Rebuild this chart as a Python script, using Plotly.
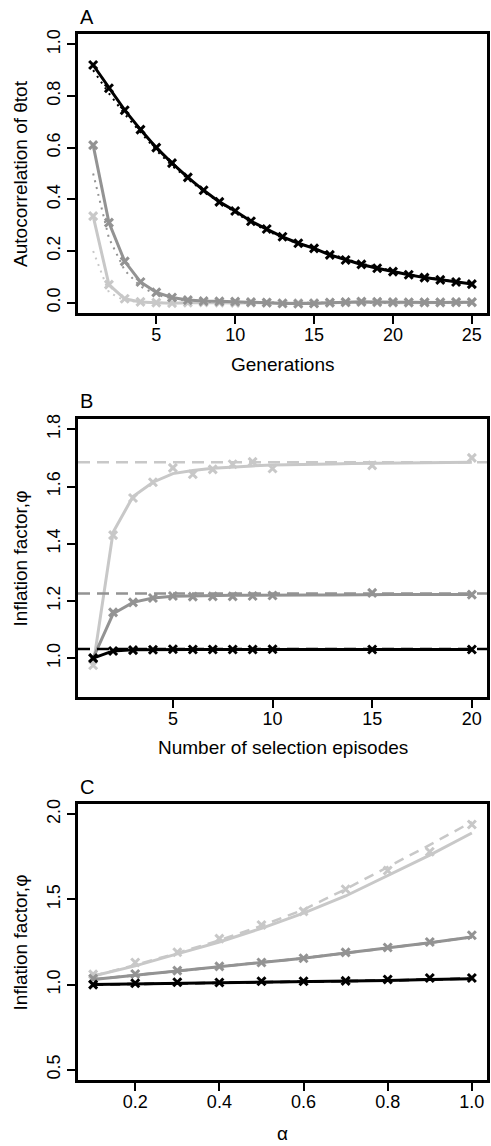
import plotly.graph_objects as go

BLACK = "#000000"
DARK = "#939393"
LIGHT = "#c8c8c8"
FONT = "Liberation Sans, Arial, sans-serif"

# ---------------- Panel A data ----------------
gen = list(range(1, 26))
a_black_obs = [0.92, 0.83, 0.745, 0.67, 0.60, 0.54, 0.485, 0.435, 0.39, 0.355, 0.315, 0.285, 0.255,
               0.23, 0.21, 0.185, 0.165, 0.148, 0.133, 0.12, 0.108, 0.097, 0.088, 0.08, 0.072]
a_black_th = [0.90, 0.81, 0.73, 0.66, 0.59, 0.53, 0.48, 0.43, 0.39, 0.35, 0.31, 0.28, 0.25,
              0.23, 0.21, 0.19, 0.17, 0.15, 0.14, 0.12, 0.11, 0.10, 0.09, 0.08, 0.07]
a_dark_obs = [0.61, 0.31, 0.16, 0.08, 0.04, 0.02, 0.01, 0.006, 0.005, 0.004, 0.002, 0.0, -0.003,
              -0.004, -0.003, 0.0, 0.002, 0.004, 0.003, 0.002, 0.001, 0.001, 0.001, 0.002, 0.002]
a_dark_th = [0.50, 0.25, 0.125, 0.063, 0.031, 0.016, 0.008, 0.004, 0.002, 0.001, 0.0, 0.0, 0.0,
             0.0, 0.0, 0.0, 0.0, 0.0, 0.0, 0.0, 0.0, 0.0, 0.0, 0.0, 0.0]
a_light_obs = [0.335, 0.07, 0.015, 0.003, 0.0, -0.002, 0.0, 0.001, 0.0, -0.001, 0.0, 0.0, -0.002,
               -0.002, -0.002, 0.0, 0.001, 0.002, 0.001, 0.0, 0.0, 0.001, 0.001, 0.001, 0.001]
a_light_th = [0.20, 0.04, 0.008, 0.002, 0.0, 0.0, 0.0, 0.0, 0.0, 0.0, 0.0, 0.0, 0.0,
              0.0, 0.0, 0.0, 0.0, 0.0, 0.0, 0.0, 0.0, 0.0, 0.0, 0.0, 0.0]

# ---------------- Panel B data ----------------
ep_obs = [1, 2, 3, 4, 5, 6, 7, 8, 9, 10, 15, 20]
b_light_obs = [0.975, 1.43, 1.56, 1.615, 1.665, 1.643, 1.66, 1.678, 1.686, 1.663, 1.674, 1.70]
b_dark_obs = [1.0, 1.16, 1.195, 1.21, 1.217, 1.215, 1.216, 1.216, 1.217, 1.219, 1.228, 1.222]
b_black_obs = [1.0, 1.025, 1.028, 1.029, 1.031, 1.03, 1.03, 1.03, 1.03, 1.031, 1.03, 1.03]
ep_th = list(range(1, 21))
b_light_th = [0.975, 1.44, 1.565, 1.615, 1.645, 1.656, 1.664, 1.669, 1.672, 1.675, 1.677, 1.678,
              1.679, 1.680, 1.681, 1.682, 1.683, 1.684, 1.684, 1.685]
b_dark_th = [1.0, 1.155, 1.195, 1.21, 1.216, 1.218, 1.219, 1.22, 1.22, 1.221, 1.221, 1.221,
             1.221, 1.222, 1.222, 1.222, 1.222, 1.222, 1.222, 1.222]
b_black_th = [1.0, 1.025, 1.029, 1.03, 1.03, 1.03, 1.03, 1.03, 1.03, 1.03, 1.03, 1.03,
              1.03, 1.03, 1.03, 1.03, 1.03, 1.03, 1.03, 1.03]
b_asym = {"light": 1.685, "dark": 1.226, "black": 1.032}

# ---------------- Panel C data ----------------
alpha = [0.1, 0.2, 0.3, 0.4, 0.5, 0.6, 0.7, 0.8, 0.9, 1.0]
c_light_obs = [1.06, 1.13, 1.19, 1.27, 1.35, 1.43, 1.56, 1.67, 1.78, 1.94]
c_light_solid = [1.05, 1.11, 1.18, 1.25, 1.33, 1.42, 1.52, 1.64, 1.76, 1.89]
c_light_dash = [1.05, 1.115, 1.185, 1.26, 1.345, 1.44, 1.56, 1.69, 1.82, 1.955]
c_dark_obs = [1.035, 1.062, 1.082, 1.107, 1.13, 1.155, 1.189, 1.218, 1.25, 1.29]
c_dark_solid = [1.03, 1.055, 1.08, 1.105, 1.13, 1.155, 1.185, 1.215, 1.245, 1.28]
c_black_obs = [1.0, 1.008, 1.014, 1.012, 1.02, 1.02, 1.022, 1.03, 1.039, 1.039]
c_black_solid = [1.0, 1.003, 1.006, 1.01, 1.013, 1.017, 1.02, 1.024, 1.03, 1.035]

fig = go.Figure()


def line(x, y, color, width, dash, xa, ya):
    fig.add_trace(go.Scatter(x=x, y=y, mode="lines", xaxis=xa, yaxis=ya,
                             line=dict(color=color, width=width, dash=dash),
                             showlegend=False, hoverinfo="skip"))


def marks(x, y, color, xa, ya, with_line=False, width=3):
    fig.add_trace(go.Scatter(x=x, y=y, mode="lines+markers" if with_line else "markers",
                             xaxis=xa, yaxis=ya,
                             line=dict(color=color, width=width),
                             marker=dict(symbol="x-thin", size=8,
                                         line=dict(color=color, width=3)),
                             showlegend=False, hoverinfo="skip"))


# Panel A
for obs, th, col in [(a_light_obs, a_light_th, LIGHT), (a_dark_obs, a_dark_th, DARK),
                     (a_black_obs, a_black_th, BLACK)]:
    line(gen, th, col, 2, "2px,5px", "x", "y")
    marks(gen, obs, col, "x", "y", with_line=True, width=3)

# Panel B
for obs, th, col, key in [(b_light_obs, b_light_th, LIGHT, "light"),
                          (b_dark_obs, b_dark_th, DARK, "dark"),
                          (b_black_obs, b_black_th, BLACK, "black")]:
    fig.add_shape(type="line", xref="x2 domain", yref="y2", x0=0, x1=1,
                  y0=b_asym[key], y1=b_asym[key],
                  line=dict(color=col, width=2.5, dash="12px,7px"))
    line(ep_th, th, col, 3, "solid", "x2", "y2")
    marks(ep_obs, obs, col, "x2", "y2")

# Panel C
for obs, solid, dash, col in [(c_light_obs, c_light_solid, c_light_dash, LIGHT),
                              (c_dark_obs, c_dark_solid, c_dark_solid, DARK),
                              (c_black_obs, c_black_solid, c_black_solid, BLACK)]:
    line(alpha, dash, col, 2.5, "10px,7px", "x3", "y3")
    line(alpha, solid, col, 3, "solid", "x3", "y3")
    marks(alpha, obs, col, "x3", "y3")

axis_common = dict(showline=True, mirror=True, linecolor="black", linewidth=2.5,
                   ticks="outside", ticklen=8, tickwidth=1.5, tickcolor="black",
                   showgrid=False, zeroline=False,
                   tickfont=dict(family=FONT, size=18, color="black"))
xcommon = dict(axis_common, ticklabelstandoff=-4)

# vertical layout in pixels: A 34-313, B 419-697, C 804-1080 ; total 1146, t=34, b=66
H = 1146
top, bot = 34, 66
ph = H - top - bot


def dom(y_top, y_bot):
    return [(H - bot - y_bot) / ph, (H - bot - y_top) / ph]


fig.update_layout(
    width=491, height=1146,
    margin=dict(l=78, r=1, t=top, b=bot),
    plot_bgcolor="white", paper_bgcolor="white",
    font=dict(family=FONT, size=18, color="black"),
    xaxis=dict(xcommon, domain=[0, 1], anchor="y", range=[0.04, 25.96],
               tickvals=[5, 10, 15, 20, 25]),
    yaxis=dict(axis_common, domain=dom(34, 313), anchor="x", range=[-0.04, 1.04],
               tickvals=[0, 0.2, 0.4, 0.6, 0.8, 1.0], tickformat=".1f", tickangle=-90),
    xaxis2=dict(xcommon, domain=[0, 1], anchor="y2", range=[0.24, 20.76],
                tickvals=[5, 10, 15, 20]),
    yaxis2=dict(axis_common, domain=dom(419, 697), anchor="x2", range=[0.864, 1.836],
                tickvals=[1.0, 1.2, 1.4, 1.6, 1.8], tickformat=".1f", tickangle=-90),
    xaxis3=dict(xcommon, domain=[0, 1], anchor="y3", range=[0.064, 1.036],
                tickvals=[0.2, 0.4, 0.6, 0.8, 1.0], tickformat=".1f"),
    yaxis3=dict(axis_common, domain=dom(804, 1080), anchor="x3", range=[0.44, 2.06],
                tickvals=[0.5, 1.0, 1.5, 2.0], tickformat=".1f", tickangle=-90),
)


def ypaper(px):
    return (H - bot - px) / ph


pw = 491 - 78 - 1


def xpaper(px):
    return (px - 78) / pw


texts = [
    ("A", 78, 17.5, "left", 0, 20),
    ("B", 78, 400.5, "left", 0, 20),
    ("C", 78, 787, "left", 0, 20),
    ("Generations", 284, 365, "center", 0, 19),
    ("Number of selection episodes", 284, 748, "center", 0, 19),
    ("α", 284, 1133, "center", 0, 19),
    ("Autocorrelation of θtot", 20, 173.5, "center", -90, 19),
    ("Inflation factor,φ", 20, 558, "center", -90, 19),
    ("Inflation factor,φ", 20, 942, "center", -90, 19),
]
for t, x, y, anc, ang, sz in texts:
    fig.add_annotation(text=t, x=xpaper(x), y=ypaper(y), xref="paper", yref="paper",
                       xanchor=anc, yanchor="middle", showarrow=False, textangle=ang,
                       font=dict(family=FONT, size=sz, color="black"))

fig.write_html("out.html")
